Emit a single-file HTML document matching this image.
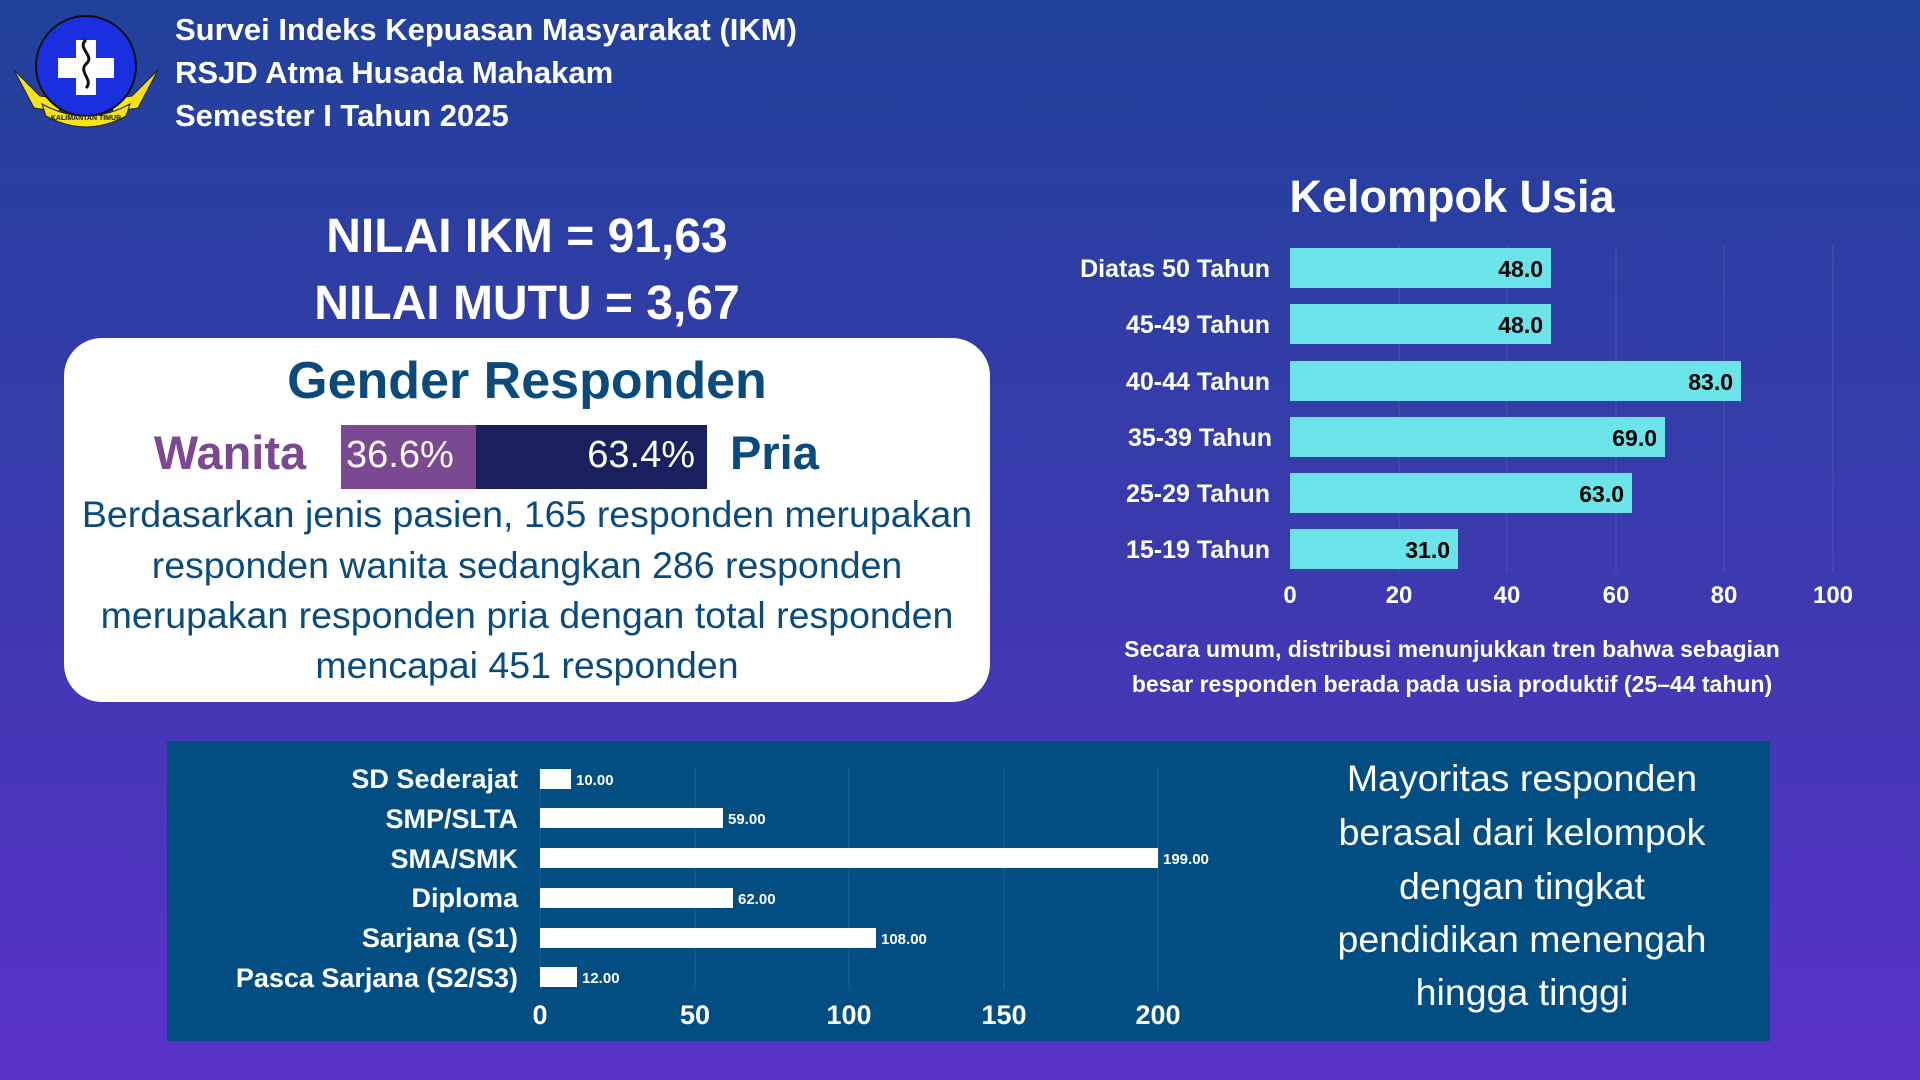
<!DOCTYPE html>
<html><head><meta charset="utf-8"><style>
html,body{margin:0;padding:0}
body{width:1920px;height:1080px;overflow:hidden;background:linear-gradient(180deg,#21419b 0%,#3a3aad 50%,#5b31ca 100%);font-family:"Liberation Sans",sans-serif}
svg{display:block}
</style></head><body>
<svg width="1920" height="1080" viewBox="0 0 1920 1080" xmlns="http://www.w3.org/2000/svg" font-family="Liberation Sans, sans-serif">
<g>
<path d="M14 70 L34 108 L60 112 L56 98 L40 96 Z" fill="#f5e21a" stroke="#222" stroke-width="1"/>
<path d="M158 70 L138 108 L112 112 L116 98 L132 96 Z" fill="#f5e21a" stroke="#222" stroke-width="1"/>
<circle cx="86" cy="66" r="50" fill="#1a2fe0" stroke="#111" stroke-width="2"/>
<rect x="76" y="40" width="20" height="55" fill="#fff"/>
<rect x="58" y="58" width="56" height="20" fill="#fff"/>
<path d="M86 40 C76 48 96 56 86 64 C78 72 94 80 86 88" stroke="#111" stroke-width="3" fill="none"/>
<path d="M42 104 Q86 128 130 104 L126 116 Q86 138 46 116 Z" fill="#f5e21a" stroke="#222" stroke-width="1"/>
<text x="86" y="120" font-size="7" text-anchor="middle" fill="#111" font-weight="bold">KALIMANTAN TIMUR</text>
</g>
<g fill="#fff" font-weight="bold" font-size="31">
<text x="175" y="40">Survei Indeks Kepuasan Masyarakat (IKM)</text>
<text x="175" y="83">RSJD Atma Husada Mahakam</text>
<text x="175" y="126">Semester I Tahun 2025</text>
</g>
<g fill="#fff" font-weight="bold" font-size="48" text-anchor="middle">
<text x="527" y="252">NILAI IKM = 91,63</text>
<text x="527" y="319">NILAI MUTU = 3,67</text>
</g>
<rect x="64" y="338" width="926" height="364" rx="38" fill="#fff"/>
<text x="527" y="398" text-anchor="middle" font-size="52" font-weight="bold" fill="#0b4b7c">Gender Responden</text>
<text x="230" y="469" text-anchor="middle" font-size="47" font-weight="bold" fill="#7b4892">Wanita</text>
<rect x="341" y="425" width="135" height="64" fill="#7b4892"/>
<rect x="476" y="425" width="231" height="64" fill="#1a1f5e"/>
<text x="346" y="467" font-size="38" fill="#fff">36.6%</text>
<text x="695" y="467" font-size="38" fill="#fff" text-anchor="end">63.4%</text>
<text x="730" y="469" font-size="47" font-weight="bold" fill="#0b4b7c">Pria</text>
<g font-size="37.5" fill="#0b4b7c" text-anchor="middle">
<text x="527" y="527">Berdasarkan jenis pasien, 165 responden merupakan</text>
<text x="527" y="578">responden wanita sedangkan 286 responden</text>
<text x="527" y="628">merupakan responden pria dengan total responden</text>
<text x="527" y="678">mencapai 451 responden</text>
</g>
<text x="1452" y="212" text-anchor="middle" font-size="45" font-weight="bold" fill="#fff">Kelompok Usia</text>
<g stroke="#ffffff" stroke-opacity="0.12" stroke-width="1">
<line x1="1399" y1="245" x2="1399" y2="572"/><line x1="1507" y1="245" x2="1507" y2="572"/>
<line x1="1616" y1="245" x2="1616" y2="572"/><line x1="1724" y1="245" x2="1724" y2="572"/><line x1="1833" y1="245" x2="1833" y2="572"/>
</g>
<g fill="#6ae4e9">
<rect x="1290" y="248" width="261" height="40"/>
<rect x="1290" y="304" width="261" height="40"/>
<rect x="1290" y="361" width="451" height="40"/>
<rect x="1290" y="417" width="375" height="40"/>
<rect x="1290" y="473" width="342" height="40"/>
<rect x="1290" y="529" width="168" height="40"/>
</g>
<g font-size="23" font-weight="bold" fill="#000" text-anchor="end">
<text x="1543" y="277">48.0</text><text x="1543" y="333">48.0</text>
<text x="1733" y="390">83.0</text><text x="1657" y="446">69.0</text>
<text x="1624" y="502">63.0</text><text x="1450" y="558">31.0</text>
</g>
<g font-size="25" font-weight="bold" fill="#fff" text-anchor="end">
<text x="1270" y="277">Diatas 50 Tahun</text><text x="1270" y="333">45-49 Tahun</text>
<text x="1270" y="390">40-44 Tahun</text><text x="1272" y="446">35-39 Tahun</text>
<text x="1270" y="502">25-29 Tahun</text><text x="1270" y="558">15-19 Tahun</text>
</g>
<g font-size="24" font-weight="bold" fill="#fff" text-anchor="middle">
<text x="1290" y="603">0</text><text x="1399" y="603">20</text><text x="1507" y="603">40</text>
<text x="1616" y="603">60</text><text x="1724" y="603">80</text><text x="1833" y="603">100</text>
</g>
<g font-size="23" font-weight="bold" fill="#fff" text-anchor="middle">
<text x="1452" y="657">Secara umum, distribusi menunjukkan tren bahwa sebagian</text>
<text x="1452" y="692">besar responden berada pada usia produktif (25–44 tahun)</text>
</g>
<rect x="167" y="741" width="1603" height="300" fill="#024d82"/>
<g stroke="#ffffff" stroke-opacity="0.12" stroke-width="1">
<line x1="540" y1="768" x2="540" y2="990"/><line x1="695" y1="768" x2="695" y2="990"/>
<line x1="849" y1="768" x2="849" y2="990"/><line x1="1004" y1="768" x2="1004" y2="990"/><line x1="1158" y1="768" x2="1158" y2="990"/>
</g>
<g fill="#fff">
<rect x="540" y="769" width="31" height="20"/>
<rect x="540" y="808" width="183" height="20"/>
<rect x="540" y="848" width="618" height="20"/>
<rect x="540" y="888" width="193" height="20"/>
<rect x="540" y="928" width="336" height="20"/>
<rect x="540" y="967" width="37" height="20"/>
</g>
<g font-size="15" font-weight="bold" fill="#fff">
<text x="576" y="785">10.00</text><text x="728" y="824">59.00</text>
<text x="1163" y="864">199.00</text><text x="738" y="904">62.00</text>
<text x="881" y="944">108.00</text><text x="582" y="983">12.00</text>
</g>
<g font-size="27" font-weight="bold" fill="#fff" text-anchor="end">
<text x="518" y="788">SD Sederajat</text><text x="518" y="828">SMP/SLTA</text>
<text x="518" y="868">SMA/SMK</text><text x="518" y="907">Diploma</text>
<text x="518" y="947">Sarjana (S1)</text><text x="518" y="987">Pasca Sarjana (S2/S3)</text>
</g>
<g font-size="27" font-weight="bold" fill="#fff" text-anchor="middle">
<text x="540" y="1024">0</text><text x="695" y="1024">50</text><text x="849" y="1024">100</text>
<text x="1004" y="1024">150</text><text x="1158" y="1024">200</text>
</g>
<g font-size="37.5" fill="#fff" text-anchor="middle">
<text x="1522" y="791">Mayoritas responden</text>
<text x="1522" y="845">berasal dari kelompok</text>
<text x="1522" y="899">dengan tingkat</text>
<text x="1522" y="952">pendidikan menengah</text>
<text x="1522" y="1005">hingga tinggi</text>
</g>
</svg>
</body></html>
